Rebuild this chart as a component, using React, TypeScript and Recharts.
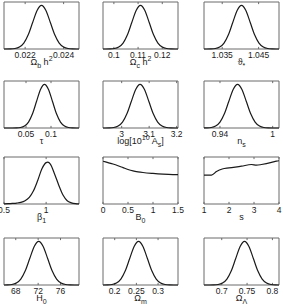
import React from 'react';
import { LineChart, Line, XAxis, YAxis, ReferenceArea, ReferenceLine } from 'recharts';

// ---------- data ----------
const obhX = [0.0209, 0.02124, 0.02147, 0.0217, 0.02193, 0.02216, 0.02239, 0.02262, 0.02285, 0.02308, 0.02331, 0.02354, 0.02377, 0.024, 0.02423, 0.02446, 0.02469, 0.0248];
const obhY = [0.0003, 0.002, 0.01, 0.041, 0.126, 0.302, 0.564, 0.821, 0.93, 0.821, 0.564, 0.302, 0.126, 0.041, 0.01, 0.002, 0.0003, 0.0001];
const obhTicks = [0.022, 0.024];

const ochX = [0.0955, 0.0966, 0.0984, 0.1002, 0.102, 0.1038, 0.1056, 0.1074, 0.1092, 0.111, 0.1128, 0.1146, 0.1164, 0.1182, 0.12, 0.1218, 0.1236, 0.1254, 0.1265];
const ochY = [0.0001, 0.0003, 0.002, 0.01, 0.041, 0.126, 0.302, 0.564, 0.821, 0.93, 0.821, 0.564, 0.302, 0.126, 0.041, 0.01, 0.002, 0.0003, 0.0001];
const ochTicks = [0.1, 0.11, 0.12];

const thetaX = [1.03, 1.0307, 1.0319, 1.0331, 1.0343, 1.0355, 1.0367, 1.0379, 1.0391, 1.0403, 1.0415, 1.0427, 1.0439, 1.0451, 1.0463, 1.0475, 1.0487, 1.0499, 1.0506];
const thetaY = [0.0001, 0.0003, 0.002, 0.01, 0.041, 0.126, 0.302, 0.564, 0.821, 0.93, 0.821, 0.564, 0.302, 0.126, 0.041, 0.01, 0.002, 0.0003, 0.0001];
const thetaTicks = [1.035, 1.045];

const tauX = [0.006, 0.023, 0.031, 0.039, 0.047, 0.055, 0.063, 0.071, 0.079, 0.087, 0.095, 0.103, 0.111, 0.119, 0.127, 0.135, 0.143, 0.151, 0.156];
const tauY = [0, 0.0003, 0.002, 0.01, 0.041, 0.126, 0.302, 0.564, 0.821, 0.93, 0.821, 0.564, 0.302, 0.126, 0.041, 0.01, 0.002, 0.0003, 0.0001];
const tauTicks = [0.05, 0.1];

const asX = [2.932, 2.939, 2.955, 2.971, 2.987, 3.003, 3.019, 3.035, 3.051, 3.067, 3.083, 3.099, 3.115, 3.131, 3.147, 3.163, 3.179, 3.195, 3.205];
const asY = [0.0001, 0.0003, 0.002, 0.01, 0.041, 0.126, 0.302, 0.564, 0.821, 0.93, 0.821, 0.564, 0.302, 0.126, 0.041, 0.01, 0.002, 0.0003, 0.0001];
const asTicks = [3, 3.1, 3.2];

const nsX = [0.9218, 0.925, 0.93, 0.935, 0.94, 0.945, 0.95, 0.955, 0.96, 0.965, 0.97, 0.975, 0.98, 0.985, 0.99, 0.995, 1.0, 1.0072];
const nsY = [0.0006, 0.002, 0.01, 0.041, 0.126, 0.302, 0.564, 0.821, 0.93, 0.821, 0.564, 0.302, 0.126, 0.041, 0.01, 0.002, 0.0003, 0];
const nsTicks = [0.94, 1];

const beta1X = [0.5, 0.55, 0.6, 0.65, 0.7, 0.75, 0.8, 0.85, 0.9, 0.95, 1.0, 1.02, 1.05, 1.1, 1.15, 1.2, 1.25, 1.3, 1.35, 1.39];
const beta1Y = [0.003, 0.006, 0.012, 0.02, 0.035, 0.07, 0.14, 0.28, 0.5, 0.75, 0.88, 0.89, 0.85, 0.64, 0.4, 0.19, 0.07, 0.025, 0.007, 0.002];
const beta1Ticks = [0.5, 1];

const b0X = [0, 0.1, 0.2, 0.3, 0.4, 0.5, 0.6, 0.7, 0.8, 1.0, 1.2, 1.4, 1.5];
const b0Y = [0.91, 0.88, 0.85, 0.815, 0.775, 0.735, 0.705, 0.685, 0.67, 0.65, 0.635, 0.625, 0.623];
const b0Ticks = [0, 0.5, 1, 1.5];

const sX = [1, 1.3, 1.5, 1.73, 2.0, 2.5, 2.9, 3.1, 3.3, 3.7, 3.9, 4.0];
const sY = [0.616, 0.616, 0.69, 0.745, 0.768, 0.805, 0.84, 0.826, 0.84, 0.884, 0.913, 0.92];
const sTicks = [1, 2, 3, 4];

const h0X = [65.9, 66.5, 67.3, 68.1, 68.9, 69.7, 70.5, 71.3, 72.1, 72.9, 73.7, 74.5, 75.3, 76.1, 76.9, 77.7, 78.5, 79.3];
const h0Y = [0.0004, 0.002, 0.01, 0.041, 0.126, 0.302, 0.564, 0.821, 0.93, 0.821, 0.564, 0.302, 0.126, 0.041, 0.01, 0.002, 0.0003, 0];
const h0Ticks = [68, 72, 76];

const omX = [0.173, 0.1836, 0.1938, 0.204, 0.2142, 0.2244, 0.2346, 0.2448, 0.255, 0.2652, 0.2754, 0.2856, 0.2958, 0.306, 0.3162, 0.3264, 0.3366, 0.346];
const omY = [0.0003, 0.002, 0.01, 0.041, 0.126, 0.302, 0.564, 0.821, 0.93, 0.821, 0.564, 0.302, 0.126, 0.041, 0.01, 0.002, 0.0003, 0];
const omTicks = [0.2, 0.25, 0.3];

const olX = [0.665, 0.6754, 0.6841, 0.6928, 0.7015, 0.7102, 0.7189, 0.7276, 0.7363, 0.745, 0.7537, 0.7624, 0.7711, 0.7798, 0.7885, 0.7972, 0.8059, 0.813];
const olY = [0, 0.0003, 0.002, 0.01, 0.041, 0.126, 0.302, 0.564, 0.821, 0.93, 0.821, 0.564, 0.302, 0.126, 0.041, 0.01, 0.002, 0.0004];
const olTicks = [0.7, 0.75, 0.8];

type Seg = [string, '' | 'sub' | 'sup'];
interface PanelDef {
  xs: number[];
  ys: number[];
  domain: [number, number];
  ticks: number[];
  label: Seg[];
}

const panels: PanelDef[] = [
  { xs: obhX, ys: obhY, domain: [0.0209, 0.0248], ticks: obhTicks, label: [['Ω', ''], ['b', 'sub'], [' h', ''], ['2', 'sup']] },
  { xs: ochX, ys: ochY, domain: [0.0955, 0.1265], ticks: ochTicks, label: [['Ω', ''], ['c', 'sub'], [' h', ''], ['2', 'sup']] },
  { xs: thetaX, ys: thetaY, domain: [1.03, 1.0506], ticks: thetaTicks, label: [['ϑ', ''], ['*', 'sub']] },
  { xs: tauX, ys: tauY, domain: [0.006, 0.156], ticks: tauTicks, label: [['τ', '']] },
  { xs: asX, ys: asY, domain: [2.932, 3.205], ticks: asTicks, label: [['log[10', ''], ['10', 'sup'], [' A', ''], ['s', 'sub'], [']', '']] },
  { xs: nsX, ys: nsY, domain: [0.9218, 1.0072], ticks: nsTicks, label: [['n', ''], ['s', 'sub']] },
  { xs: beta1X, ys: beta1Y, domain: [0.5, 1.39], ticks: beta1Ticks, label: [['β', ''], ['1', 'sub']] },
  { xs: b0X, ys: b0Y, domain: [0, 1.5], ticks: b0Ticks, label: [['B', ''], ['0', 'sub']] },
  { xs: sX, ys: sY, domain: [1, 4], ticks: sTicks, label: [['s', '']] },
  { xs: h0X, ys: h0Y, domain: [65.9, 79.3], ticks: h0Ticks, label: [['H', ''], ['0', 'sub']] },
  { xs: omX, ys: omY, domain: [0.173, 0.346], ticks: omTicks, label: [['Ω', ''], ['m', 'sub']] },
  { xs: olX, ys: olY, domain: [0.665, 0.813], ticks: olTicks, label: [['Ω', ''], ['Λ', 'sub']] },
];

// ---------- layout ----------
const COLS = [4, 103, 204];
const ROWS = [2, 81, 157, 238];
const PLOT_W = 75;
const PLOT_H = 47;
const ML = 14;
const MR = 14;
const MT = 4;
const AXIS_H = 30;
const FONT = 'Liberation Sans, Arial, Helvetica, sans-serif';
const BOX = '#6a6a6a';
const INK = '#1a1a1a';

function renderLabel(segs: Seg[]) {
  return () => {
    const cx = ML + PLOT_W / 2;
    const y = MT + PLOT_H + 16;
    let shift = 0;
    return (
      <text x={cx} y={y} textAnchor="middle" fontFamily={FONT} fontSize={9} fill={INK}>
        {segs.map(([t, kind], i) => {
          const target = kind === 'sub' ? 3 : kind === 'sup' ? -4 : 0;
          const dy = target - shift;
          shift = target;
          return (
            <tspan key={i} dy={dy} fontSize={kind ? 7 : 9}>
              {t}
            </tspan>
          );
        })}
      </text>
    );
  };
}

function Panel({ def, left, top }: { def: PanelDef; left: number; top: number }) {
  const data = def.xs.map((x, i) => ({ x, y: def.ys[i] }));
  const tickStyle = { fontSize: 8.5, fill: INK, fontFamily: FONT };
  return (
    <div style={{ position: 'absolute', left: left - ML, top: top - MT }}>
      <LineChart
        width={ML + PLOT_W + MR}
        height={MT + PLOT_H + AXIS_H}
        data={data}
        margin={{ top: MT, right: MR, bottom: 0, left: ML }}
      >
        <XAxis
          xAxisId="b"
          dataKey="x"
          type="number"
          domain={def.domain}
          allowDataOverflow
          ticks={def.ticks}
          interval={0}
          height={AXIS_H}
          tickSize={0}
          tickMargin={3}
          tick={tickStyle}
          axisLine={false}
          tickLine={false}
          label={{ content: renderLabel(def.label) }}
        />
        <YAxis yAxisId="l" type="number" domain={[0, 1]} width={0} tick={false} tickLine={false} axisLine={false} />
        <ReferenceArea
          xAxisId="b"
          yAxisId="l"
          x1={def.domain[0]}
          x2={def.domain[1]}
          y1={0}
          y2={1}
          fill="none"
          fillOpacity={0}
          stroke={BOX}
          strokeWidth={1}
          strokeOpacity={1}
          ifOverflow="visible"
        />
        {def.ticks.map((t) => (
          <ReferenceLine
            key={'b' + t}
            xAxisId="b"
            yAxisId="l"
            segment={[{ x: t, y: 0 }, { x: t, y: 0.045 }]}
            stroke={BOX}
            strokeWidth={1}
            ifOverflow="visible"
          />
        ))}
        {def.ticks.map((t) => (
          <ReferenceLine
            key={'t' + t}
            xAxisId="b"
            yAxisId="l"
            segment={[{ x: t, y: 1 }, { x: t, y: 0.955 }]}
            stroke={BOX}
            strokeWidth={1}
            ifOverflow="visible"
          />
        ))}
        <Line
          xAxisId="b"
          yAxisId="l"
          type="monotone"
          dataKey="y"
          stroke={INK}
          strokeWidth={1.2}
          dot={false}
          isAnimationActive={false}
        />
      </LineChart>
    </div>
  );
}

export default function App() {
  return (
    <div style={{ position: 'absolute', left: 0, top: 0, width: 283, height: 308, background: '#fff', overflow: 'hidden' }}>
      {panels.map((p, i) => (
        <Panel key={i} def={p} left={COLS[i % 3]} top={ROWS[Math.floor(i / 3)]} />
      ))}
    </div>
  );
}
